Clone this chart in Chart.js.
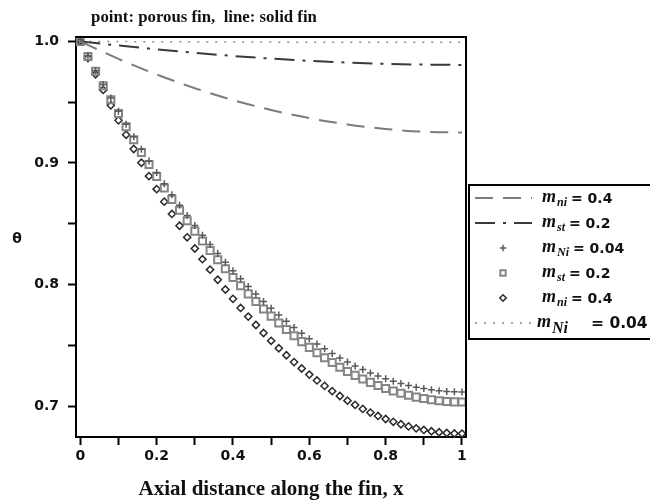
<!DOCTYPE html>
<html><head><meta charset="utf-8">
<script src="https://cdn.jsdelivr.net/npm/chart.js@4/dist/chart.umd.min.js"></script>
<style>html,body{margin:0;padding:0;background:#fff;}#wrap{width:650px;height:504px;}</style>
</head><body><div id="wrap"><canvas id="c" width="650" height="504"></canvas></div>
<script>
// ---- text ----
const titleText = 'point: porous fin,  line: solid fin';
const xAxisTitle = 'Axial distance along the fin, x';
const yAxisTitle = 'θ';

// ---- ticks ----
const xTickValues = [0, 0.1, 0.2, 0.3, 0.4, 0.5, 0.6, 0.7, 0.8, 0.9, 1];
const xTickLabels = ['0', '', '0.2', '', '0.4', '', '0.6', '', '0.8', '', '1'];
const yTickValues = [0.7, 0.75, 0.8, 0.85, 0.9, 0.95, 1.0];
const yTickLabels = ['0.7', '', '0.8', '', '0.9', '', '1.0'];

// ---- solid fin (lines) ----
const xSolid = [0, 0.1, 0.2, 0.3, 0.4, 0.5, 0.6, 0.7, 0.8, 0.9, 1];
const solidNi04 = [1.0, 0.9856, 0.9728, 0.9615, 0.9518, 0.9436, 0.9369, 0.9317, 0.9280, 0.9257, 0.9250];
const solidSt02 = [1.0, 0.9966, 0.9935, 0.9906, 0.9880, 0.9858, 0.9840, 0.9826, 0.9815, 0.9809, 0.9806];
const solidNi004 = [1.0, 0.99985, 0.99971, 0.99959, 0.99949, 0.99940, 0.99933, 0.99927, 0.99923, 0.99921, 0.99920];

// ---- porous fin (points) ----
const xPorous = [0, 0.02, 0.04, 0.06, 0.08, 0.1, 0.12, 0.14, 0.16, 0.18, 0.2, 0.22, 0.24, 0.26, 0.28, 0.3, 0.32, 0.34, 0.36, 0.38, 0.4, 0.42, 0.44, 0.46, 0.48, 0.5, 0.52, 0.54, 0.56, 0.58, 0.6, 0.62, 0.64, 0.66, 0.68, 0.7, 0.72, 0.74, 0.76, 0.78, 0.8, 0.82, 0.84, 0.86, 0.88, 0.9, 0.92, 0.94, 0.96, 0.98, 1];
const porousNi004 = [1.0, 0.9879, 0.9761, 0.9646, 0.9534, 0.9425, 0.9318, 0.9215, 0.9114, 0.9016, 0.8921, 0.8829, 0.8739, 0.8652, 0.8568, 0.8486, 0.8406, 0.8330, 0.8255, 0.8184, 0.8115, 0.8048, 0.7984, 0.7922, 0.7862, 0.7805, 0.7751, 0.7698, 0.7648, 0.7601, 0.7555, 0.7512, 0.7472, 0.7433, 0.7397, 0.7363, 0.7331, 0.7302, 0.7274, 0.7249, 0.7226, 0.7206, 0.7187, 0.7171, 0.7157, 0.7145, 0.7135, 0.7128, 0.7122, 0.7119, 0.7118];
const porousSt02 = [1.0, 0.9875, 0.9754, 0.9635, 0.9520, 0.9407, 0.9298, 0.9191, 0.9087, 0.8987, 0.8889, 0.8794, 0.8701, 0.8612, 0.8525, 0.8440, 0.8359, 0.8280, 0.8204, 0.8130, 0.8059, 0.7990, 0.7924, 0.7861, 0.7799, 0.7741, 0.7685, 0.7631, 0.7580, 0.7531, 0.7484, 0.7440, 0.7398, 0.7359, 0.7321, 0.7286, 0.7254, 0.7224, 0.7196, 0.7170, 0.7146, 0.7125, 0.7106, 0.7090, 0.7075, 0.7063, 0.7053, 0.7045, 0.7039, 0.7036, 0.7035];
const porousNi04 = [1.0, 0.9863, 0.9730, 0.9601, 0.9474, 0.9351, 0.9232, 0.9115, 0.9002, 0.8892, 0.8785, 0.8682, 0.8581, 0.8484, 0.8389, 0.8297, 0.8209, 0.8123, 0.8040, 0.7960, 0.7883, 0.7808, 0.7737, 0.7668, 0.7602, 0.7538, 0.7477, 0.7419, 0.7363, 0.7310, 0.7260, 0.7212, 0.7167, 0.7124, 0.7084, 0.7046, 0.7011, 0.6978, 0.6948, 0.6920, 0.6895, 0.6872, 0.6852, 0.6834, 0.6818, 0.6805, 0.6794, 0.6786, 0.6780, 0.6776, 0.6775];

// ---- legend ----
const legendSubs = ['ni', 'st', 'Ni', 'st', 'ni', 'Ni'];
const legendValues = ['0.4', '0.2', '0.04', '0.2', '0.4', '0.04'];

const toXY = (xs, ys) => xs.map((x, i) => ({ x: x, y: ys[i] }));

const datasets = [
  { data: toXY(xSolid, solidNi04), showLine: true, borderColor: '#7b7b7b', borderWidth: 2, borderDash: [18, 10], pointRadius: 0, cubicInterpolationMode: 'monotone' },
  { data: toXY(xSolid, solidSt02), showLine: true, borderColor: '#3a3a3a', borderWidth: 2, borderDash: [20, 8, 3, 8], pointRadius: 0, cubicInterpolationMode: 'monotone' },
  { data: toXY(xPorous, porousNi004), showLine: false, pointStyle: 'cross', pointRadius: 3.5, pointBorderColor: '#5a5a5a', pointBackgroundColor: 'rgba(0,0,0,0)', pointBorderWidth: 1.5, clip: false },
  { data: toXY(xPorous, porousSt02), showLine: false, pointStyle: 'rect', pointRadius: 5, pointBorderColor: '#858585', pointBackgroundColor: 'rgba(0,0,0,0)', pointBorderWidth: 2, clip: false },
  { data: toXY(xPorous, porousNi04), showLine: false, pointStyle: 'rectRot', pointRadius: 3.6, pointBorderColor: '#2a2a2a', pointBackgroundColor: 'rgba(0,0,0,0)', pointBorderWidth: 1.5, clip: false },
  { data: toXY(xSolid, solidNi004), showLine: true, borderColor: '#8a8a8a', borderWidth: 1.5, borderDash: [2, 7], pointRadius: 0, cubicInterpolationMode: 'monotone' }
];

function fitFont(ctx, text, style, family, base, target) {
  ctx.font = style + ' ' + base + 'px ' + family;
  const w = ctx.measureText(text).width;
  const s = base * target / w;
  return style + ' ' + s.toFixed(2) + 'px ' + family;
}

const decor = {
  id: 'decor',
  afterDraw(chart) {
    const ctx = chart.ctx, a = chart.chartArea;
    ctx.save();
    // frame top & right
    ctx.strokeStyle = '#000'; ctx.lineWidth = 2; ctx.setLineDash([]);
    ctx.beginPath();
    ctx.moveTo(a.left, a.top); ctx.lineTo(a.right, a.top); ctx.lineTo(a.right, a.bottom);
    ctx.stroke();
    // title
    ctx.fillStyle = '#111'; ctx.textAlign = 'center'; ctx.textBaseline = 'middle';
    ctx.font = fitFont(ctx, titleText, 'bold', '"Liberation Serif"', 14, 226);
    ctx.fillText(titleText, 204, 18);
    // x axis title
    ctx.font = fitFont(ctx, xAxisTitle, 'bold', '"Liberation Serif"', 15, 265);
    ctx.fillText(xAxisTitle, (a.left + a.right) / 2, 490);
    // y axis title
    ctx.font = 'bold 14px "DejaVu Sans"';
    ctx.fillText(yAxisTitle, 17, 239);
    // legend
    const lx = 469, ly = 185, lw = 200, lh = 154;
    ctx.fillStyle = '#fff';
    ctx.fillRect(lx, ly, lw, lh);
    ctx.strokeStyle = '#000'; ctx.lineWidth = 2;
    ctx.strokeRect(lx, ly, lw, lh);
    for (let i = 0; i < legendSubs.length; i++) {
      const ds = chart.data.datasets[i];
      const y = 198 + 25 * i;
      ctx.save();
      if (ds.showLine) {
        ctx.strokeStyle = ds.borderColor; ctx.lineWidth = ds.borderWidth;
        ctx.setLineDash(ds.borderDash || []);
        ctx.beginPath(); ctx.moveTo(475, y); ctx.lineTo(532, y); ctx.stroke();
      } else {
        ctx.setLineDash([]);
        ctx.strokeStyle = ds.pointBorderColor; ctx.fillStyle = 'rgba(0,0,0,0)';
        ctx.lineWidth = ds.pointBorderWidth;
        const r = ds.pointStyle === 'rect' ? 3.8 : 3.2;
        Chart.helpers.drawPoint(ctx, { pointStyle: ds.pointStyle, radius: r, rotation: 0, borderWidth: ds.pointBorderWidth }, 503, y);
      }
      ctx.restore();
      const last = i === legendSubs.length - 1;
      let x = last ? 537 : 542;
      ctx.fillStyle = '#111'; ctx.textAlign = 'left'; ctx.textBaseline = 'alphabetic';
      ctx.font = 'italic bold 18px "Liberation Serif"';
      ctx.fillText('m', x, y + 4);
      x += ctx.measureText('m').width + 1;
      ctx.font = last ? 'italic bold 16px "Liberation Serif"' : 'italic bold 12px "Liberation Serif"';
      ctx.fillText(legendSubs[i], x, y + (last ? 10 : 8));
      x += ctx.measureText(legendSubs[i]).width;
      ctx.font = last ? 'bold 15.5px "DejaVu Sans"' : 'bold 14px "DejaVu Sans"';
      ctx.fillText('= ' + legendValues[i], last ? 591 : x + 4, y + 5);
    }
    ctx.restore();
  }
};

new Chart(document.getElementById('c'), {
  type: 'scatter',
  data: { datasets: datasets },
  plugins: [decor],
  options: {
    responsive: false, animation: false, devicePixelRatio: 1,
    layout: { padding: { top: 37, right: 184, bottom: 0, left: 0 } },
    plugins: { legend: { display: false }, title: { display: false }, tooltip: { enabled: false } },
    scales: {
      x: {
        type: 'linear', position: 'bottom', min: -0.0113, max: 1.0105,
        afterBuildTicks: s => { s.ticks = xTickValues.map(v => ({ value: v })); },
        afterFit: s => { s.height = 67; },
        ticks: { callback: (v, i) => xTickLabels[i], autoSkip: false, maxRotation: 0, padding: 3, color: '#111', font: { family: '"DejaVu Sans"', size: 14, weight: 'bold' } },
        grid: { drawOnChartArea: false, drawTicks: true, tickLength: 8, tickColor: '#000', tickWidth: 2 },
        border: { display: true, color: '#000', width: 2 }
      },
      y: {
        type: 'linear', position: 'left', min: 0.6747, max: 1.0036,
        afterBuildTicks: s => { s.ticks = yTickValues.map(v => ({ value: v })); },
        afterFit: s => { s.width = 76; },
        ticks: { callback: (v, i) => yTickLabels[i], autoSkip: false, padding: 9, color: '#111', font: { family: '"DejaVu Sans"', size: 14, weight: 'bold' } },
        grid: { drawOnChartArea: false, drawTicks: true, tickLength: 8, tickColor: '#000', tickWidth: 2 },
        border: { display: true, color: '#000', width: 2 }
      }
    }
  }
});
</script></body></html>
